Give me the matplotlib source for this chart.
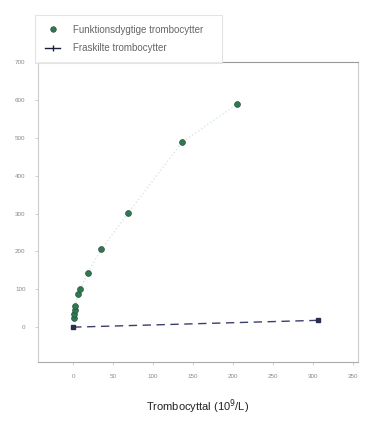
import matplotlib
matplotlib.use("Agg")
import matplotlib.pyplot as plt
from matplotlib.lines import Line2D

plt.rcParams['font.family'] = ['Liberation Sans', 'DejaVu Sans']

# Data
func_x = [1, 1.5, 2, 2.5, 6, 9, 18, 35, 69, 136, 205]
func_y = [25, 35, 45, 55, 87, 100, 144, 205, 302, 488, 589]
free_x = [0, 306]
free_y = [0, 18]
xticks = [0, 50, 100, 150, 200, 250, 300, 350]
yticks = [0, 100, 200, 300, 400, 500, 600, 700]
legend_labels = ["Funktionsdygtige trombocytter", "Fraskilte trombocytter"]
xlabel = "Trombocyttal (10$^{9}$/L)"

fig = plt.figure(figsize=(3.66, 4.21), dpi=100)
ax = fig.add_axes([38/366, 1-362/421, (358-38)/366, (362-62)/421])

ax.plot(func_x, func_y, linestyle=':', color='#d6eadc', linewidth=1.0, zorder=1)
ax.plot(func_x, func_y, linestyle='none', marker='o', markersize=4.2,
        markerfacecolor='#2e7a50', markeredgecolor='#2d5040', markeredgewidth=0.5, zorder=3)
ax.plot(free_x, free_y, linestyle=(0, (6, 4)), color='#3a3f6e', linewidth=1.0,
        marker='s', markersize=3.5, markerfacecolor='#2a2d50', markeredgecolor='#2a2d50', zorder=2)

ax.set_xlim(-44, 356)
ax.set_ylim(-92, 697)
ax.set_xticks(xticks)
ax.set_yticks(yticks)
ax.tick_params(axis='both', labelsize=4.5, colors='#bbbbbb', labelcolor='#888888',
               length=2, width=0.5, pad=7)
for s in ax.spines.values():
    s.set_color('#cccccc')
    s.set_linewidth(0.8)
ax.spines['bottom'].set_color('#aaaaaa')
ax.spines['top'].set_color('#999999')

ax.set_xlabel(xlabel, fontsize=8, color='#222222', labelpad=13)

handles = [
    Line2D([], [], linestyle='none', marker='o', markersize=4,
           markerfacecolor='#2e7a50', markeredgecolor='#2d5040', markeredgewidth=0.5),
    Line2D([], [], linestyle='-', color='#1a1d3a', linewidth=1.0, marker='|', markersize=5,
           markeredgecolor='#1a1d3a'),
]
leg = fig.legend(handles, legend_labels, loc='lower left',
                 bbox_to_anchor=(35/366, 1-63/421, (222-35)/366, 50/421),
                 mode='expand', fontsize=7, frameon=True, fancybox=False,
                 handlelength=1.6, handletextpad=1.3, borderpad=1.0, labelspacing=0.9,
                 borderaxespad=0)
leg.get_frame().set_edgecolor('#dddddd')
leg.get_frame().set_linewidth(0.8)
for t in leg.get_texts():
    t.set_color('#666666')

fig.savefig("out.png", dpi=100)
